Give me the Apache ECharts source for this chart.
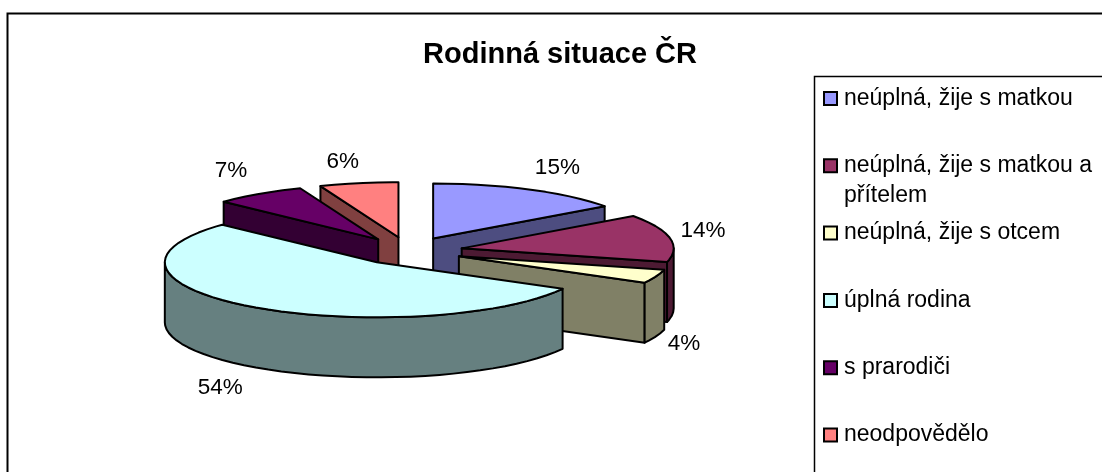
<!DOCTYPE html>
<html>
<head>
<meta charset="utf-8">
<style>html,body{margin:0;padding:0;background:#fff;overflow:hidden}#c{width:1102px;height:472px}</style>
<script src="https://cdn.jsdelivr.net/npm/echarts@6/dist/echarts.min.js"></script>
</head>
<body>
<div id="c"></div>
<script>
const chartTitle = 'Rodinná situace ČR';
const categories = ['neúplná, žije s matkou', 'neúplná, žije s matkou a přítelem', 'neúplná, žije s otcem', 'úplná rodina', 's prarodiči', 'neodpovědělo'];
const percents = [15, 14, 4, 54, 7, 6];
const topColors = ['#9999FF', '#993366', '#FFFFCC', '#CCFFFF', '#660066', '#FF8080'];
const wallColors = ['#4D4D80', '#4D1A33', '#808066', '#668080', '#330033', '#804040'];
const paintRank = [2, 3, 4, 5, 1, 0];              // back-to-front order of the slices
const labelNudge = [[28, -22], [33, -7], [28, 7], [-32, 21], [-28, -23], [-16, -21]];

const FONT = '"Liberation Sans", Arial, sans-serif';
const CX = 408.6, CY = 251, RX = 212, RY = 55, DEPTH = 60, EXPLODE = 0.255;
const total = percents.reduce((a, b) => a + b, 0);
const RAD = Math.PI / 180;
const wrapAt = categories[1].lastIndexOf(' ');

function renderSlice(params, api) {
  const i = params.seriesIndex;
  const value = api.value(0);
  const before = percents.slice(0, i).reduce((a, b) => a + b, 0);
  const a0 = before / total * 360, a1 = a0 + value / total * 360, mid = (a0 + a1) / 2;
  const ax = CX + EXPLODE * RX * Math.sin(mid * RAD);
  const ay = CY - EXPLODE * RY * Math.cos(mid * RAD);
  const rim = (a) => [ax + RX * Math.sin(a * RAD), ay - RY * Math.cos(a * RAD)];
  const down = p => [p[0], p[1] + DEPTH];
  const line = { stroke: '#000', lineWidth: 2, lineJoin: 'round' };
  const poly = (points, fill, z2) => ({ type: 'polygon', z2, shape: { points }, style: { fill, ...line } });
  const wall = wallColors[i];
  const children = [];

  if (Math.sin(a0 * RAD) < -1e-6) {          // leading cut face
    const p = rim(a0);
    children.push(poly([[ax, ay], p, down(p), [ax, ay + DEPTH]], wall, 1));
  }
  if (Math.sin(a1 * RAD) > 1e-6) {           // trailing cut face
    const p = rim(a1);
    children.push(poly([[ax, ay], p, down(p), [ax, ay + DEPTH]], wall, 1));
  }
  const w0 = Math.max(a0, 90), w1 = Math.min(a1, 270);
  if (w1 > w0) {                             // outer curved wall
    const upper = [], lower = [];
    for (let a = w0; a < w1; a += 4) upper.push(rim(a));
    upper.push(rim(w1));
    upper.forEach(p => lower.unshift(down(p)));
    children.push(poly(upper.concat(lower), wall, 2));
  }
  const topFace = [[ax, ay]];
  for (let a = a0; a < a1; a += 4) topFace.push(rim(a));
  topFace.push(rim(a1));
  children.push(poly(topFace, topColors[i], 3));

  const outerX = CX + (1 + EXPLODE) * RX * Math.sin(mid * RAD);
  const outerY = CY - (1 + EXPLODE) * RY * Math.cos(mid * RAD) + (Math.cos(mid * RAD) < 0 ? DEPTH : 0);
  children.push({
    type: 'text', z2: 10,
    style: {
      x: outerX + labelNudge[i][0], y: outerY + labelNudge[i][1],
      text: value + '%', fill: '#000', font: '22.5px ' + FONT, align: 'center', verticalAlign: 'middle'
    }
  });
  return { type: 'group', children };
}

const chart = echarts.init(document.getElementById('c'), null, { renderer: 'canvas' });
chart.setOption({
  animation: false,
  backgroundColor: '#fff',
  title: {
    text: chartTitle, left: 555, top: 35, textAlign: 'center',
    textStyle: { fontFamily: FONT, fontSize: 29, fontWeight: 'bold', color: '#000' }
  },
  legend: {
    orient: 'vertical', left: 823, top: 87, padding: 0,
    itemWidth: 13, itemHeight: 13, itemGap: 44.3,
    icon: 'rect', selectedMode: false,
    data: categories,
    itemStyle: { borderColor: '#000', borderWidth: 2 },
    formatter: n => n === categories[1] ? n.slice(0, wrapAt) : n,
    textStyle: { fontFamily: FONT, fontSize: 23, lineHeight: 20, color: '#000', padding: [0, 0, 0, 2] }
  },
  graphic: [
    { type: 'rect', z: 0, silent: true, shape: { x: 7.5, y: 13.5, width: 1200, height: 600 }, style: { fill: 'none', stroke: '#000', lineWidth: 2 } },
    { type: 'rect', z: 1, silent: true, shape: { x: 814.5, y: 76.5, width: 400, height: 500 }, style: { fill: 'none', stroke: '#000', lineWidth: 1.5 } },
    { type: 'text', z: 5, silent: true, style: { x: 844, y: 196, text: categories[1].slice(wrapAt + 1), fill: '#000', font: '23px ' + FONT, verticalAlign: 'middle' } }
  ],
  series: categories.map((name, i) => ({
    type: 'custom',
    name,
    coordinateSystem: 'none',
    z: 2 + paintRank[i],
    silent: true,
    itemStyle: { color: topColors[i] },
    data: [[percents[i]]],
    renderItem: renderSlice
  }))
});
</script>
</body>
</html>
